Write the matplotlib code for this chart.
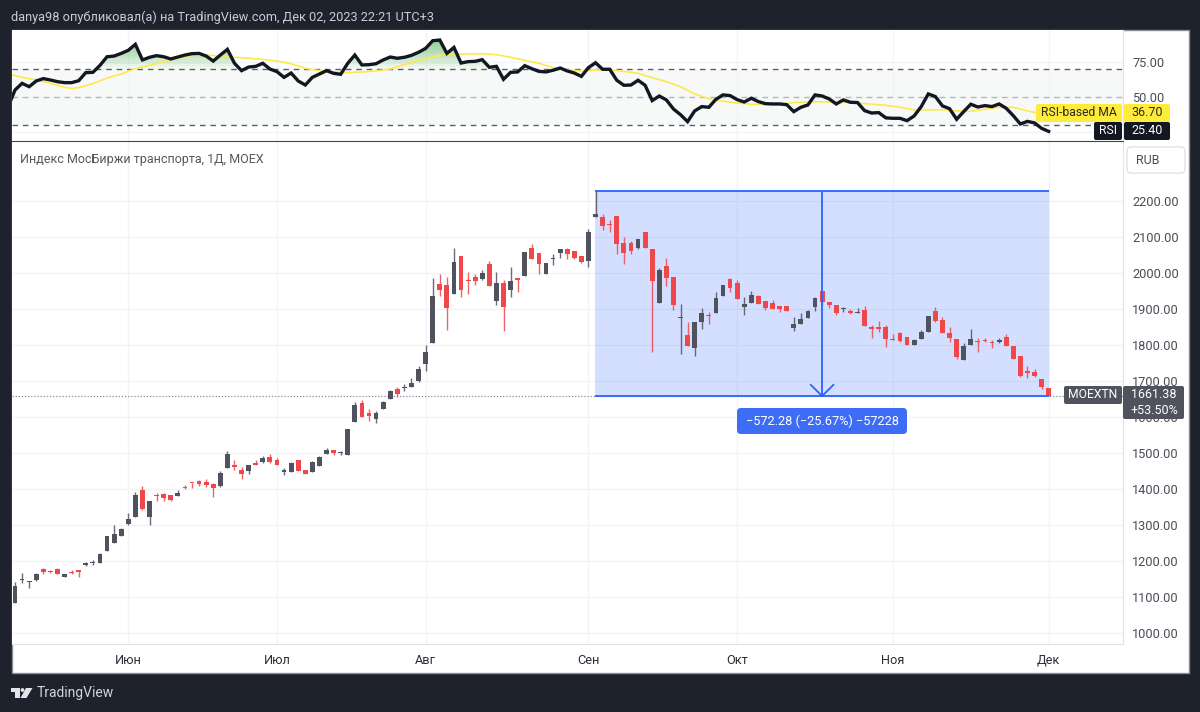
import numpy as np
import matplotlib
matplotlib.use("Agg")
import matplotlib.pyplot as plt
from matplotlib.patches import FancyBboxPatch, Rectangle, Polygon, Circle

# ============================================================
# Data
# ============================================================
OPEN = [1083, 1147, 1143, 1148, 1179, 1174, 1178, 1157, 1170, 1175,
        1189, 1194, 1195, 1229, 1250, 1269, 1302, 1322, 1397, 1324,
        1382, 1387, 1383, 1381, 1406, 1417, 1423, 1421, 1414, 1409,
        1459, 1467, 1452, 1450, 1473, 1476, 1490, 1480, 1448, 1448,
        1481, 1453, 1448, 1465, 1498, 1508, 1501, 1495, 1586, 1640,
        1612, 1595, 1621, 1651, 1677, 1679, 1684, 1700, 1748, 1805,
        1969, 1966, 1942, 2045, 1980, 1987, 1982, 2024, 1922, 1970,
        1951, 1986, 1992, 2068, 2054, 1996, 2037, 2054, 2066, 2061,
        2045, 2032, 2153, 2153, 2135, 2157, 2083, 2083, 2067, 2114,
        2066, 1915, 2018, 1987, 1873, 1826, 1791, 1863, 1883, 1888,
        1936, 1983, 1971, 1906, 1915, 1935, 1921, 1916, 1907, 1907,
        1846, 1858, 1874, 1904, 1950, 1920, 1909, 1900, 1895, 1889,
        1897, 1849, 1849, 1849, 1816, 1833, 1821, 1800, 1815, 1836,
        1895, 1869, 1833, 1816, 1758, 1800, 1810, 1813, 1808, 1809,
        1821, 1798, 1769, 1727, 1724, 1706, 1680]
HIGH = [1142, 1168, 1144, 1167, 1180, 1175, 1180, 1166, 1175, 1175,
        1197, 1203, 1222, 1271, 1301, 1291, 1335, 1392, 1409, 1366,
        1388, 1388, 1384, 1397, 1410, 1417, 1424, 1427, 1416, 1449,
        1505, 1481, 1461, 1468, 1482, 1492, 1497, 1485, 1459, 1474,
        1482, 1453, 1477, 1492, 1514, 1509, 1507, 1566, 1642, 1647,
        1621, 1616, 1645, 1674, 1684, 1691, 1709, 1741, 1799, 1985,
        1995, 1987, 2069, 2045, 2003, 1996, 2007, 2031, 2003, 1981,
        2015, 1986, 2057, 2079, 2054, 2026, 2051, 2066, 2068, 2061,
        2045, 2122, 2226, 2163, 2146, 2158, 2098, 2088, 2093, 2114,
        2066, 2012, 2040, 1987, 1914, 1864, 1862, 1901, 1891, 1945,
        1966, 1984, 1981, 1933, 1950, 1937, 1921, 1924, 1907, 1908,
        1878, 1887, 1896, 1933, 1950, 1920, 1909, 1905, 1898, 1903,
        1907, 1855, 1866, 1855, 1830, 1835, 1821, 1817, 1841, 1881,
        1904, 1877, 1848, 1816, 1806, 1844, 1820, 1819, 1814, 1818,
        1829, 1798, 1769, 1740, 1733, 1706, 1680]
LOW = [1083, 1141, 1127, 1146, 1166, 1167, 1164, 1155, 1165, 1157,
       1187, 1189, 1194, 1229, 1250, 1269, 1300, 1322, 1342, 1301,
       1367, 1366, 1368, 1381, 1399, 1402, 1409, 1407, 1379, 1407,
       1459, 1453, 1429, 1441, 1467, 1471, 1472, 1466, 1438, 1448,
       1451, 1441, 1448, 1465, 1498, 1494, 1495, 1495, 1586, 1601,
       1589, 1584, 1621, 1650, 1656, 1673, 1684, 1698, 1727, 1805,
       1935, 1841, 1942, 1932, 1942, 1965, 1979, 1963, 1910, 1839,
       1933, 1946, 1992, 2039, 1996, 1996, 2020, 2041, 2039, 2037,
       2028, 2015, 2153, 2118, 2114, 2051, 2025, 2052, 2065, 2067,
       1780, 1915, 1963, 1896, 1774, 1798, 1769, 1844, 1858, 1888,
       1936, 1945, 1927, 1883, 1915, 1912, 1896, 1900, 1892, 1894,
       1839, 1858, 1874, 1893, 1910, 1903, 1882, 1891, 1886, 1889,
       1853, 1819, 1835, 1795, 1812, 1808, 1800, 1800, 1815, 1836,
       1864, 1834, 1808, 1760, 1758, 1800, 1781, 1807, 1791, 1804,
       1798, 1761, 1710, 1708, 1711, 1678, 1658]
CLOSE = [1132, 1152, 1144, 1166, 1170, 1169, 1165, 1166, 1168, 1169,
         1194, 1197, 1220, 1270, 1275, 1289, 1316, 1383, 1345, 1366,
         1380, 1375, 1371, 1390, 1403, 1416, 1414, 1411, 1403, 1446,
         1497, 1462, 1443, 1468, 1467, 1487, 1474, 1468, 1454, 1473,
         1451, 1441, 1475, 1489, 1508, 1500, 1503, 1566, 1633, 1601,
         1603, 1610, 1642, 1672, 1665, 1681, 1693, 1733, 1780, 1935,
         1953, 1903, 2030, 1953, 1977, 1977, 1999, 1963, 1970, 1906,
         1976, 1980, 2057, 2039, 2025, 2026, 2042, 2066, 2052, 2042,
         2030, 2112, 2163, 2129, 2132, 2079, 2055, 2061, 2093, 2067,
         1978, 2007, 1984, 1910, 1874, 1798, 1862, 1887, 1880, 1929,
         1966, 1958, 1927, 1914, 1937, 1912, 1903, 1900, 1898, 1895,
         1857, 1871, 1893, 1929, 1919, 1910, 1889, 1903, 1889, 1891,
         1853, 1844, 1844, 1815, 1812, 1810, 1800, 1814, 1836, 1879,
         1867, 1834, 1819, 1766, 1796, 1817, 1808, 1811, 1805, 1811,
         1798, 1761, 1713, 1723, 1713, 1682, 1658]

# RSI starts one bar before the first visible candle
RSI = [42.7,
       55.1, 59.9, 57.5, 61.6, 63.3, 62.3, 61.1, 60.4, 60.4, 61.8,
       67.6, 67.8, 72.8, 79.0, 79.5, 81.4, 83.6, 87.9, 76.7, 78.6,
       79.8, 79.0, 77.4, 78.8, 80.2, 81.2, 81.4, 79.5, 75.9, 80.2,
       84.3, 74.3, 69.0, 71.6, 72.1, 74.3, 70.2, 68.3, 64.2, 67.3,
       61.6, 58.7, 64.2, 66.6, 69.0, 67.1, 66.4, 74.3, 80.2, 73.1,
       73.3, 74.0, 76.7, 78.8, 77.9,
       78.6, 80.0, 82.2, 85.0, 90.5, 91.0, 81.4, 85.7, 74.5, 75.5,
       75.7, 76.9, 71.4, 72.1, 62.8, 67.8, 68.1, 72.6, 70.4, 68.5,
       68.1, 69.3, 70.9, 68.8, 67.3, 64.9, 71.2, 74.7, 70.0, 70.0,
       62.1, 58.5, 58.7, 62.1, 58.5, 47.5, 50.8, 48.0, 41.5, 37.4,
       32.4, 40.1, 43.2, 42.7, 48.4, 51.6, 51.1, 48.2, 46.5, 49.2,
       46.8, 45.3, 45.1, 45.1, 44.6, 39.6, 42.7,
       44.4, 51.6, 50.8, 48.7, 45.1, 48.0, 46.3, 46.1, 40.3, 38.6,
       38.9, 35.1, 34.8, 34.8, 33.1, 36.5, 43.2, 52.3, 50.4, 43.7,
       41.7, 34.1, 39.6, 44.9, 42.9, 43.9, 43.2, 45.1, 42.0, 36.7,
       30.7, 32.6, 31.5, 27.6, 25.40]

MA_DAYS = [-1, 1, 3, 5, 7, 8, 9, 11, 13, 15, 17, 19, 21, 23, 25, 27, 29, 31, 33, 35,
           37, 39, 41, 43, 45, 47, 49, 51, 53, 54, 56, 58, 60, 62, 64, 66, 68, 70, 72, 74,
           76, 78, 80, 82, 84, 86, 88, 90, 92, 94, 96, 98, 100, 102, 104, 106, 108, 110,
           113, 115, 117, 119, 121, 123, 125, 127, 129, 131, 133, 135, 137, 139, 141, 143, 144, 146]
MA_VALUES = [66.8, 64.2, 62.3, 59.9, 57.1, 56.3, 56.8, 59.7, 63.7, 66.6, 70.4, 72.8, 75.5, 77.9, 80.0, 80.2, 79.5, 78.6, 77.9, 77.1,
             75.9, 74.0, 70.7, 69.0, 68.0, 67.6, 68.0, 68.8, 70.2, 71.9, 74.7, 77.6, 80.2, 81.0, 81.0, 81.2, 80.5, 78.6, 76.4, 74.3,
             71.2, 69.7, 68.8, 69.5, 69.7, 68.5, 67.1, 64.0, 61.1, 57.5, 52.3, 48.9, 47.0, 45.8, 44.9, 44.6, 44.9, 46.1,
             46.8, 46.5, 46.3, 45.8, 44.9, 44.1, 42.7, 40.8, 40.8, 41.0, 40.1, 39.8, 41.3, 42.7, 42.7, 40.1, 39.1, 36.70]

MONTH_DAYS = [16, 37, 58, 81, 102, 124, 146]
MONTH_LABELS = ["Июн", "Июл", "Авг", "Сен", "Окт", "Ноя", "Дек"]
PRICE_TICKS = [1000, 1100, 1200, 1300, 1400, 1500, 1600, 1700, 1800, 1900, 2000, 2100, 2200]
RSI_TICKS = [25, 50, 75]
RSI_TICK_LABELS = ["", "50.00", "75.00"]

MEASURE_TOP = 2226
MEASURE_BOTTOM = 1658
MEASURE_START = 81.9
MEASURE_END = 146.1
MEASURE_MID = 114

# ============================================================
# Style
# ============================================================
W, H = 1200, 712
DARK = "#1e222d"
UP = "#50535e"
DOWN = "#f0484a"
GRID = "#f2f4f7"
BLUE = "#2962ff"
TEXT = "#4a4d58"
FONT = "Roboto"

plt.rcParams["font.family"] = [FONT, "DejaVu Sans"]

fig = plt.figure(figsize=(W / 100, H / 100), dpi=100, facecolor=DARK)


def px_axes(x0, y0, x1, y1, **kw):
    return fig.add_axes([x0 / W, 1 - y1 / H, (x1 - x0) / W, (y1 - y0) / H], **kw)


# panel behind both charts
bg = px_axes(0, 0, W, H, zorder=0)
bg.set_xlim(0, W)
bg.set_ylim(H, 0)
bg.axis("off")
bg.add_patch(Rectangle((11.5, 29.5), 1177, 643.5, fc="white", ec="#8a8d97", lw=1))

# ============================================================
# Price chart
# ============================================================
ax = px_axes(12, 142, 1123, 644, zorder=1)
ax.set_xlim(-0.424, 156.5)
ax.set_ylim(970.6, 2362.2)
days = np.arange(len(OPEN))

ax.set_axisbelow(True)
ax.grid(True, color=GRID, lw=1)
ax.set_yticks(PRICE_TICKS, [f"{p:.2f}" for p in PRICE_TICKS])
ax.yaxis.tick_right()
ax.set_xticks(MONTH_DAYS, MONTH_LABELS)
ax.tick_params(length=0, labelsize=9.2, colors="#2b2e38")
ax.tick_params(axis="y", pad=6.5, colors=TEXT)
ax.tick_params(axis="x", pad=7)
for side in ("top", "left"):
    ax.spines[side].set_visible(False)
ax.spines["right"].set_color("#e0e3eb")
ax.spines["bottom"].set_color("#e0e3eb")

# measure tool
ax.add_patch(Rectangle((MEASURE_START, MEASURE_BOTTOM), MEASURE_END - MEASURE_START, MEASURE_TOP - MEASURE_BOTTOM,
                       fc=BLUE, alpha=0.2, lw=0, zorder=2))
ax.axhline(MEASURE_BOTTOM, color="#8a8d97", lw=0.9, ls=(0, (1, 1.5)), zorder=3)

for d, o, h, l, c in zip(days, OPEN, HIGH, LOW, CLOSE):
    col = UP if c >= o else DOWN
    ax.vlines(d, l, h, color=col, lw=1, zorder=4, alpha=0.85)
    ax.bar(d, max(abs(c - o), 3), bottom=min(o, c), width=0.68, color=col, lw=0, zorder=5)

ax.hlines([MEASURE_TOP, MEASURE_BOTTOM], MEASURE_START, MEASURE_END, color=BLUE, lw=1.3, zorder=6)
ax.vlines(MEASURE_MID, MEASURE_BOTTOM, MEASURE_TOP, color=BLUE, lw=1.3, zorder=6)
ax.plot([MEASURE_MID - 1.6, MEASURE_MID, MEASURE_MID + 1.6], [MEASURE_BOTTOM + 31, MEASURE_BOTTOM, MEASURE_BOTTOM + 31],
        color=BLUE, lw=1.3, zorder=6)

# ============================================================
# RSI pane
# ============================================================
rs = px_axes(12, 30, 1123, 141, zorder=1)
rs.set_xlim(-0.424, 156.5)
rs.set_ylim(18.5, 98.2)
rsi = np.array(RSI)
rsi_days = np.arange(-1, len(RSI) - 1)

rs.set_axisbelow(True)
rs.grid(True, color=GRID, lw=1)
rs.set_yticks(RSI_TICKS, RSI_TICK_LABELS)
rs.yaxis.tick_right()
rs.set_xticks(MONTH_DAYS)
rs.tick_params(length=0, labelbottom=False, labelsize=9.2, pad=6.5, colors=TEXT)
for side in ("top", "left"):
    rs.spines[side].set_visible(False)
rs.spines["right"].set_color("#e0e3eb")
rs.spines["bottom"].set_color("#434651")

rs.axhspan(30, 70, color="#f6f9f8", lw=0, zorder=0.5)
# overbought gradient: stacked layers, stronger towards the peaks
for lvl in range(70, 92, 2):
    rs.fill_between(rsi_days, lvl, rsi, where=rsi > lvl, interpolate=True, color="#4caf50", alpha=0.07, lw=0, zorder=1)
rs.axhline(70, color="#5d606b", lw=1, ls=(0, (4, 3.5)), zorder=2)
rs.axhline(30, color="#5d606b", lw=1, ls=(0, (4, 3.5)), zorder=2)
rs.axhline(50, color="#b4b6bd", lw=1, ls=(0, (4, 3.5)), zorder=2)
rs.plot(MA_DAYS, MA_VALUES, color="#ffe94a", lw=1.2, zorder=3)
rs.plot(rsi_days, rsi, color="#131722", lw=2.4, zorder=4, solid_joinstyle="miter")

# ============================================================
# Overlay: header, labels, logo (pixel coordinates)
# ============================================================
ov = px_axes(0, 0, W, H, zorder=3)
ov.set_xlim(0, W)
ov.set_ylim(H, 0)
ov.axis("off")
ov.patch.set_alpha(0)


def box(x0, y0, x1, y1, color, ec="none", r=2):
    ov.add_patch(FancyBboxPatch((x0 + r, y0 + r), x1 - x0 - 2 * r, y1 - y0 - 2 * r,
                                boxstyle=f"round,pad={r},rounding_size={r}", fc=color, ec=ec, lw=1))


def label(x, y, s, color, size=9, ha="center"):
    ov.text(x, y, s, color=color, fontsize=size, ha=ha, va="center")


label(11, 17, "danya98 опубликовал(а) на TradingView.com, Дек 02, 2023 22:21 UTC+3", "#c9ccd3", 9.2, "left")
label(20, 159, "Индекс МосБиржи транспорта, 1Д, MOEX", "#55585f", 9, "left")

box(1127, 147, 1185, 173, "white", "#e0e3eb", 4)
label(1148, 160, "RUB", TEXT)

# RSI labels
box(1036, 104, 1122, 122, "#ffeb3b")
label(1079, 113, "RSI-based MA", "#2b2b20", 8.7)
box(1124, 104, 1170, 122, "#ffeb3b")
label(1147, 113, "36.70", "#2b2b20")
box(1094, 122, 1122, 140, "#131722")
label(1108, 131, "RSI", "white", 8.7)
box(1124, 122, 1170, 140, "#131722")
label(1147, 131, "25.40", "white")

# last price labels
box(1064, 386, 1122, 404, "#50535e")
label(1093, 395, "MOEXTN", "white", 8.7)
box(1123, 386, 1184, 419, "#50535e")
label(1154, 395, "1661.38", "white")
label(1154, 411, "+53.50%", "white")

# measure label
box(737, 408, 907, 434, "#3d6cf5", r=4)
label(822, 421, "−572.28 (−25.67%) −57228", "white", 9.2)

# logo
logo = "#e3e5ea"
ov.add_patch(Polygon([(11, 688), (19.5, 688), (19.5, 698), (15, 698), (15, 692), (11, 692)], fc=logo, lw=0))
ov.add_patch(Circle((22.5, 690), 1.9, fc=logo, lw=0))
ov.add_patch(Polygon([(26, 688), (32.5, 688), (26.5, 698), (20.5, 698)], fc=logo, lw=0))
label(37, 693, "TradingView", "#d1d4dc", 10, "left")

assert len(OPEN) == len(HIGH) == len(LOW) == len(CLOSE) == 147 and len(RSI) == 148 and len(MA_DAYS) == len(MA_VALUES)

fig.savefig("out.png", dpi=100, facecolor=DARK)
